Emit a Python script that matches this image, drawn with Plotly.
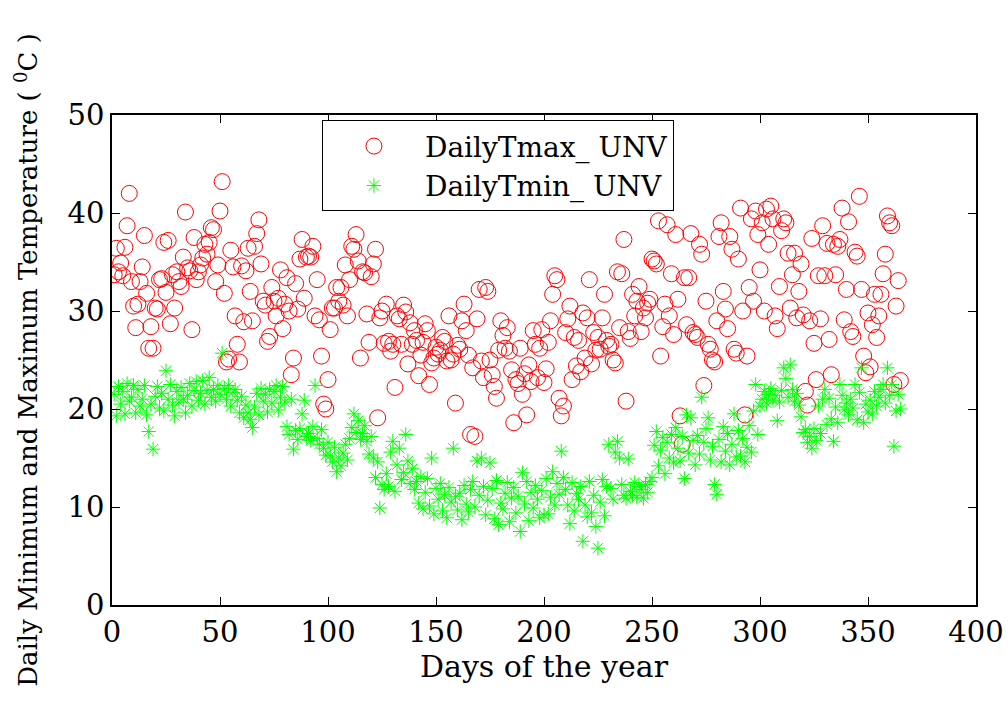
import plotly.graph_objects as go

# ---------------- data ----------------
days = list(range(1, 366))

tmax = [
    33.7, 36.4, 34.0, 34.9, 33.6, 36.5, 38.7, 42.0, 33.0, 30.5,
    28.3, 30.7, 33.0, 34.5, 37.7, 31.8, 26.2, 28.4, 26.2, 30.3,
    30.2, 33.2, 33.3, 37.0, 31.9, 37.2, 28.7, 33.7, 30.3, 34.0,
    33.0, 32.5, 35.5, 40.1, 34.4, 34.1, 28.1, 37.5, 33.2, 34.0,
    34.7, 35.4, 36.8, 35.8, 37.0, 38.5, 38.3, 33.0, 34.7, 40.2,
    43.2, 31.8, 24.8, 25.1, 36.2, 34.5, 29.5, 26.6, 24.8, 34.6,
    28.9, 34.1, 36.4, 32.0, 29.0, 36.6, 37.9, 39.3, 34.8, 31.0,
    30.6, 26.9, 27.4, 32.4, 31.0, 29.5, 31.3, 34.2, 28.2, 30.7,
    33.4, 30.0, 23.5, 25.2, 32.8, 30.2, 35.3, 37.3, 31.3, 35.5,
    35.6, 35.5, 36.6, 29.5, 33.2, 29.1, 25.4, 20.5, 20.0, 23.0,
    28.1, 30.3, 30.3, 32.4, 31.0, 32.4, 30.6, 34.7, 29.5, 33.2,
    36.6, 36.3, 37.8, 35.1, 25.2, 34.0, 33.9, 29.7, 26.8, 33.5,
    34.8, 36.3, 19.1, 29.3, 30.0, 26.7, 30.7, 26.9, 25.9, 26.6,
    22.2, 29.5, 29.2, 26.6, 30.6, 29.9, 24.6, 28.8, 26.6, 28.0,
    27.0, 23.4, 25.5, 26.8, 28.7, 28.0, 22.5, 24.7, 25.2, 26.3,
    25.6, 26.0, 27.3, 26.9, 24.9, 29.5, 25.0, 25.6, 20.6, 26.5,
    26.1, 29.0, 30.7, 28.0, 25.5, 17.4, 24.2, 17.2, 29.2, 32.2,
    24.9, 23.2, 32.4, 32.0, 25.0, 23.5, 22.3, 21.1, 26.0, 29.0,
    27.5, 26.2, 28.3, 25.9, 24.0, 18.6, 23.0, 22.6, 26.2, 21.5,
    23.6, 19.4, 24.5, 22.8, 28.0, 26.6, 23.2, 26.2, 28.1, 22.7,
    24.1, 26.8, 29.0, 31.7, 33.6, 33.2, 21.1, 19.3, 20.3, 27.8,
    29.2, 30.5, 23.0, 27.3, 24.4, 27.0, 23.8, 29.8, 25.2, 29.3,
    33.2, 24.6, 27.8, 26.0, 27.3, 26.1, 29.3, 31.7, 27.0, 26.4,
    26.6, 25.0, 24.7, 34.0, 28.3, 33.8, 37.3, 20.8, 27.9, 27.2,
    31.7, 29.5, 31.0, 32.5, 27.9, 30.3, 29.3, 30.8, 31.2, 35.3,
    35.1, 34.8, 39.2, 25.4, 28.4, 30.7, 38.8, 29.5, 33.8, 27.6,
    37.8, 31.2, 19.3, 16.4, 33.4, 28.6, 33.4, 37.9, 27.8, 27.6,
    27.3, 36.8, 35.8, 22.4, 31.0, 26.6, 26.1, 25.0, 24.8, 29.0,
    37.6, 39.0, 32.0, 30.2, 28.2, 37.6, 36.3, 26.1, 25.7, 35.3,
    40.5, 30.0, 19.4, 25.4, 32.4, 39.4, 31.0, 40.2, 37.8, 34.2,
    39.0, 30.0, 40.4, 36.8, 40.7, 39.4, 29.5, 28.2, 32.5, 38.2,
    39.4, 39.0, 35.9, 30.3, 33.7, 35.9, 29.3, 32.0, 34.8, 29.6,
    21.8, 20.4, 29.0, 37.4, 26.7, 23.0, 33.6, 29.2, 38.7, 33.6,
    36.9, 27.1, 23.5, 36.8, 33.7, 36.6, 37.3, 40.5, 29.1, 32.2,
    39.1, 27.9, 27.4, 36.0, 35.6, 41.7, 32.2, 25.4, 23.7, 29.8,
    24.3, 28.6, 31.7, 27.3, 29.5, 31.7, 33.8, 35.8, 39.7, 39.0,
    38.7, 22.5, 30.5, 33.1, 22.9,
]

tmin = [
    21.5, 19.3, 22.3, 20.5, 21.8, 19.5, 22.6, 20.8, 21.2, 22.4,
    19.6, 22.0, 20.3, 21.0, 22.4, 19.4, 17.7, 20.5, 15.9, 21.3,
    22.3, 20.1, 21.6, 19.8, 23.9, 21.0, 22.5, 20.4, 19.3, 21.8,
    20.7, 22.2, 21.0, 19.6, 21.4, 22.6, 20.3, 21.9, 22.8, 20.9,
    21.6, 22.9, 20.5, 21.9, 23.2, 21.2, 22.0, 20.8, 22.4, 21.5,
    25.7, 22.1, 21.0, 22.4, 20.3, 21.7, 22.0, 20.9, 19.6, 21.3,
    19.1, 20.4, 19.6, 18.9, 18.1, 20.2, 21.6, 19.4, 22.1, 20.8,
    21.5, 19.7, 22.0, 20.6, 21.8, 22.4, 19.9, 21.2, 22.3, 20.7,
    18.2, 17.4, 21.0, 15.9, 17.8, 16.9, 18.0, 19.5, 20.9, 17.2,
    17.5, 16.8, 18.2, 22.4, 17.0, 16.4, 17.9, 16.0, 15.3, 16.6,
    15.2, 14.6, 16.1, 13.6, 15.0, 14.2, 15.5, 16.4, 14.8, 17.0,
    18.1, 19.5, 17.6, 18.8, 16.9, 17.5, 18.3, 16.7, 15.4, 17.2,
    15.0, 13.0, 14.6, 9.9, 12.3, 11.8, 13.4, 12.1, 15.6, 16.7,
    11.6, 14.3, 16.0, 12.8, 13.5, 17.4, 14.7, 12.4, 13.9, 11.8,
    12.6, 10.4, 13.1, 9.8, 11.5, 12.9, 10.1, 15.0, 9.3, 11.9,
    10.8, 12.4, 9.6, 11.3, 8.9, 12.0, 10.5, 16.0, 11.1, 9.7,
    11.4, 8.7, 12.2, 10.3, 9.5, 11.8, 12.6, 10.0, 14.7, 11.2,
    15.0, 12.1, 9.2, 10.7, 14.5, 11.9, 8.8, 12.7, 8.2, 10.4,
    9.8, 11.4, 12.5, 8.5, 10.9, 12.0, 9.4, 11.1, 7.5, 13.5,
    10.3, 12.6, 8.6, 11.5, 9.9, 12.2, 10.8, 8.9, 11.7, 9.2,
    12.9, 9.3, 11.0, 13.6, 10.2, 12.4, 11.3, 15.7, 13.0, 11.8,
    10.2, 8.3, 12.5, 9.6, 11.4, 10.8, 12.1, 6.5, 10.2, 9.0,
    12.6, 9.4, 11.2, 8.0, 5.8, 10.5, 12.8, 9.1, 12.1, 16.4,
    11.9, 10.8, 15.6, 16.7, 15.0, 12.3, 11.2, 10.9, 14.9, 11.6,
    11.2, 12.5, 11.0, 12.1, 11.8, 10.9, 12.3, 11.5, 12.6, 13.0,
    16.3, 17.7, 14.2, 15.8, 17.1, 13.4, 16.6, 15.0, 17.4, 14.5,
    18.1, 16.0, 14.7, 17.2, 12.9, 19.4, 15.5, 19.1, 16.8, 14.3,
    17.3, 15.4, 21.2, 16.6, 18.0, 19.1, 14.8, 16.2, 12.3, 11.3,
    16.9, 14.6, 18.2, 15.7, 17.5, 14.3, 16.4, 19.5, 15.1, 17.8,
    15.2, 17.0, 14.6, 16.1, 18.3, 15.6, 19.8, 22.5, 17.4, 20.3,
    21.0, 21.8, 20.6, 21.5, 22.1, 20.9, 21.4, 18.8, 20.7, 21.9,
    24.2, 23.1, 21.2, 24.5, 22.0, 20.8, 21.6, 20.4, 19.2, 17.6,
    17.9, 16.6, 17.2, 16.0, 18.0, 16.8, 20.3, 17.5, 21.0, 22.0,
    18.4, 21.1, 19.0, 16.7, 20.2, 18.6, 22.5, 21.4, 19.9, 20.6,
    19.4, 21.0, 20.1, 22.5, 18.9, 21.7, 24.2, 18.6, 20.5, 19.7,
    20.9, 19.5, 21.8, 20.3, 21.2, 22.0, 22.5, 20.6, 24.2, 21.4,
    22.5, 16.2, 19.8, 21.5, 20.0,
]

x_ticks = [0, 50, 100, 150, 200, 250, 300, 350, 400]
y_ticks = [0, 10, 20, 30, 40, 50]

series_names = ["DailyTmax_ UNV", "DailyTmin_ UNV"]
x_title = "Days of the year"
y_title = "Daily Minimum and Maximum Temperature ( <sup>0</sup>C )"

FONT = "DejaVu Serif"

fig = go.Figure()
fig.add_trace(go.Scatter(
    x=days, y=tmax, mode="markers", name=series_names[0],
    marker=dict(symbol="circle-open", size=16, color="#ff0000",
                line=dict(width=1, color="#ff0000")),
))
fig.add_trace(go.Scatter(
    x=days, y=tmin, mode="markers", name=series_names[1],
    marker=dict(symbol="asterisk-open", size=12, color="#00ff00",
                line=dict(width=1, color="#00ff00")),
))

fig.update_layout(
    width=1008, height=719,
    margin=dict(l=112, r=32, t=115, b=114, autoexpand=False),
    paper_bgcolor="white", plot_bgcolor="white",
    font=dict(family=FONT, size=29, color="black"),
    legend=dict(x=0.243, y=0.989, xanchor="left", yanchor="top",
                bgcolor="white", bordercolor="black", borderwidth=1,
                font=dict(size=28),
                itemwidth=92),
    showlegend=True,
)
fig.update_xaxes(
    range=[0, 400], tickvals=x_ticks,
    showline=True, linecolor="black", linewidth=1.5, mirror="allticks",
    ticks="inside", ticklen=8, tickcolor="black", tickwidth=1,
    showgrid=False, zeroline=False, tickfont=dict(size=29),
    title=dict(text=x_title, font=dict(size=30), standoff=2),
)
fig.update_yaxes(
    range=[0, 50], tickvals=y_ticks,
    showline=True, linecolor="black", linewidth=1.5, mirror="allticks",
    ticks="inside", ticklen=8, tickcolor="black", tickwidth=1,
    showgrid=False, zeroline=False, tickfont=dict(size=29),
    title=dict(text=y_title, font=dict(size=26), standoff=22),
)

fig.write_html("out.html")
